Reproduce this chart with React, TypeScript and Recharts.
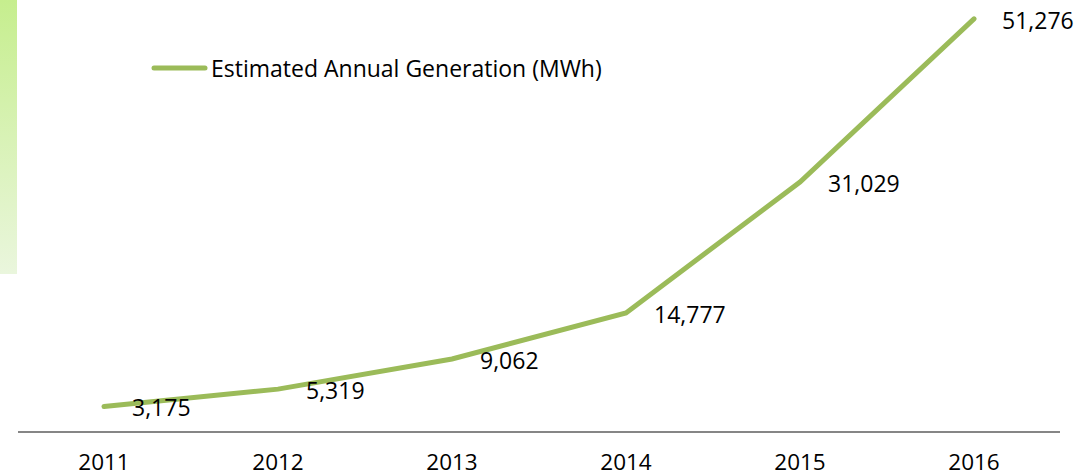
import React from 'react';
import { LineChart, Line, XAxis, YAxis, LabelList } from 'recharts';

const years = ['2011', '2012', '2013', '2014', '2015', '2016'];
const generation = [3175, 5319, 9062, 14777, 31029, 51276];
const seriesName = 'Estimated Annual Generation (MWh)';

const data = years.map((y, i) => ({ year: y, value: generation[i] }));

const FONT = '"Open Sans", Lato, sans-serif';

const renderLabel = (props: any) => {
  const { x, y, value } = props;
  return (
    <text x={x + 28} y={y + 1} dominantBaseline="central" textAnchor="start" fontSize={23} fontFamily={FONT} fill="#000">
      {Number(value).toLocaleString('en-US')}
    </text>
  );
};

export default function App() {
  return (
    <div style={{ position: 'fixed', left: 0, top: 0, width: 1090, height: 476, background: '#fff' }}>
      <div
        style={{
          position: 'absolute',
          left: 0,
          top: 0,
          width: 17,
          height: 274,
          background: 'linear-gradient(to bottom, #C6EE8E, #EAF6DD)',
        }}
      />
      <LineChart width={1090} height={476} data={data} margin={{ top: 13, right: 30, bottom: 0, left: 18 }}>
        <XAxis
          dataKey="year"
          axisLine={{ stroke: '#868686', strokeWidth: 2 }}
          tickLine={false}
          height={44}
          padding={{ left: 86, right: 86 }}
          tick={{ fontSize: 22.5, fontFamily: FONT, fill: '#000', dy: 14 }}
        />
        <YAxis hide domain={[0, 52000]} />
        <Line
          type="linear"
          dataKey="value"
          name={seriesName}
          stroke="#9BBB59"
          strokeWidth={5}
          strokeLinecap="round"
          dot={false}
          isAnimationActive={false}
        >
          <LabelList dataKey="value" content={renderLabel} />
        </Line>
      </LineChart>
      <div
        style={{
          position: 'absolute',
          left: 150,
          top: 52,
          display: 'flex',
          alignItems: 'center',
          fontFamily: FONT,
          fontSize: 23,
          color: '#000',
          whiteSpace: 'nowrap',
        }}
      >
        <svg width={60} height={10} style={{ marginRight: 1 }}>
          <line x1={4} y1={5} x2={55} y2={5} stroke="#9BBB59" strokeWidth={5} strokeLinecap="round" />
        </svg>
        <span>{seriesName}</span>
      </div>
    </div>
  );
}
